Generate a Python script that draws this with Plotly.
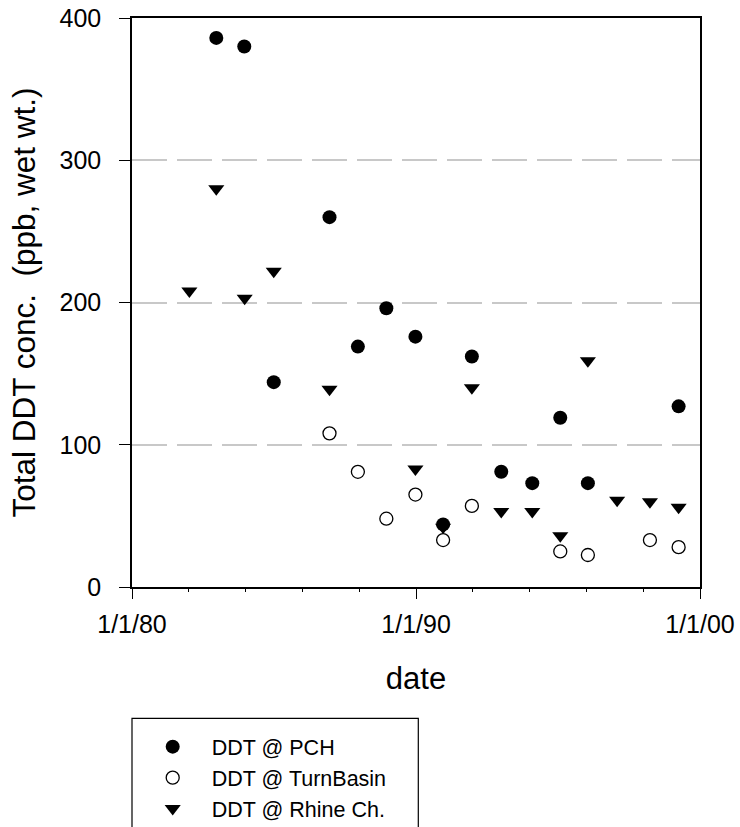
import plotly.graph_objects as go

# ---- data ----
pch_dates = ["1982-12-20", "1983-12-15", "1984-12-28", "1986-12-15", "1987-12-15",
             "1988-12-15", "1989-12-24", "1990-12-15", "1991-12-20", "1993-01-01",
             "1994-02-04", "1995-01-30", "1996-01-20", "1999-04-01"]
pch_vals = [386, 380, 144, 260, 169, 196, 176, 44, 162, 81, 73, 119, 73, 127]

turn_dates = ["1986-12-15", "1987-12-15", "1988-12-15", "1989-12-24", "1990-12-15",
              "1991-12-20", "1995-01-30", "1996-01-20", "1998-03-28", "1999-04-01"]
turn_vals = [108, 81, 48, 65, 33, 57, 25, 22.5, 33, 28]

rhine_dates = ["1982-01-08", "1982-12-20", "1983-12-20", "1984-12-28", "1986-12-15",
               "1989-12-24", "1990-12-15", "1991-12-20", "1993-01-01", "1994-02-04",
               "1995-01-30", "1996-01-20", "1997-01-30", "1998-03-28", "1999-04-01"]
rhine_vals = [208, 280, 203, 222, 139, 83, 42, 140, 53, 53, 36, 159, 61, 60, 56]

x_tick_vals = ["1980-01-01", "1990-01-01", "2000-01-01"]
x_tick_text = ["1/1/80", "1/1/90", "1/1/00"]
y_tick_vals = [0, 100, 200, 300, 400]

FONT = "Liberation Sans, Arial, sans-serif"

fig = go.Figure()
fig.add_trace(go.Scatter(
    x=rhine_dates, y=rhine_vals, mode="markers", name="DDT @ Rhine Ch.",
    legendrank=3,
    marker=dict(symbol="triangle-down", size=14, color="black", line=dict(width=0))))
fig.add_trace(go.Scatter(
    x=pch_dates, y=pch_vals, mode="markers", name="DDT @ PCH",
    legendrank=1,
    marker=dict(symbol="circle", size=14, color="black", line=dict(width=0))))
fig.add_trace(go.Scatter(
    x=turn_dates, y=turn_vals, mode="markers", name="DDT @ TurnBasin",
    legendrank=2,
    marker=dict(symbol="circle", size=13, color="white", line=dict(width=1.3, color="black"))))

W, H = 740, 827
L, R, T, B = 132, 40, 18, 240
PW, PH = W - L - R, H - T - B
BOTTOM = T + PH

fig.update_layout(
    width=W, height=H,
    margin=dict(l=L, r=R, t=T, b=B, autoexpand=False),
    paper_bgcolor="white", plot_bgcolor="white",
    font=dict(family=FONT, color="black"),
    showlegend=True,
    legend=dict(
        x=(133.7 - L) / PW, y=-(726.2 - BOTTOM) / PH, xanchor="left", yanchor="top",
        font=dict(size=21.5, family=FONT, color="black"),
        bgcolor="rgba(0,0,0,0)", borderwidth=0, itemsizing="trace", itemwidth=68,
        traceorder="normal"),
    shapes=[dict(type="rect", xref="paper", yref="paper",
                 x0=0, x1=(418.3 - L) / PW,
                 y0=-(845 - BOTTOM) / PH, y1=-(718.3 - BOTTOM) / PH,
                 line=dict(color="black", width=1.2), fillcolor="rgba(0,0,0,0)", layer="above")],
)

fig.update_xaxes(
    type="date", range=["1980-01-01", "2000-01-01"], automargin=False,
    tickmode="array", tickvals=x_tick_vals, ticktext=x_tick_text,
    ticks="outside", ticklen=10, tickwidth=1.2, tickcolor="black",
    tickfont=dict(size=25, family=FONT, color="black"), ticklabelstandoff=4,
    ticklabeloverflow="allow",
    showline=True, linecolor="black", linewidth=1.5, mirror=True,
    showgrid=False, zeroline=False,
    minor=dict(ticks="outside", ticklen=3, tickwidth=1, tickcolor="black",
               tick0="1980-01-01", dtick="M24", showgrid=False),
    title=dict(text="date", font=dict(size=31, family=FONT, color="black"), standoff=31),
)
fig.update_yaxes(
    range=[0, 400], tickmode="array", tickvals=y_tick_vals, automargin=False,
    ticks="outside", ticklen=11, tickwidth=1.2, tickcolor="black",
    tickfont=dict(size=25, family=FONT, color="black"), ticklabelstandoff=13,
    ticklabeloverflow="allow",
    showline=True, linecolor="black", linewidth=1.5, mirror=True,
    showgrid=True, gridcolor="#c8c8c8", gridwidth=1.5, griddash="35px,10px",
    zeroline=False,
    title=dict(text="Total DDT conc.\u00a0 (ppb, wet wt.)",
               font=dict(size=31.5, family=FONT, color="black"), standoff=15),
)

fig.write_html("out.html", config={"displayModeBar": False},
               post_script="document.body.style.margin='0';document.body.style.overflow='hidden';")
